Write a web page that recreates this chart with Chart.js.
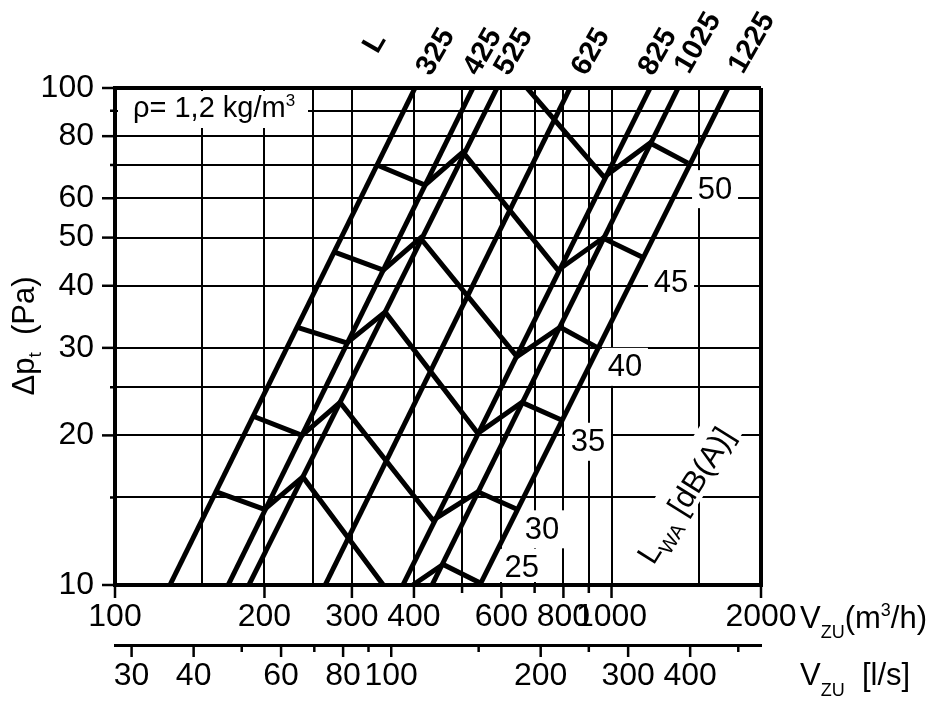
<!DOCTYPE html>
<html>
<head>
<meta charset="utf-8">
<script src="https://cdn.jsdelivr.net/npm/chart.js@4.4.1/dist/chart.umd.min.js"></script>
<style>
  html, body { margin: 0; padding: 0; background: #fff; }
  canvas { display: block; }
</style>
</head>
<body>
<canvas id="chart" width="942" height="709"></canvas>
<script>
// diffuser lengths L and their straight characteristics (m3/h at 10 Pa and at 100 Pa)
const lengthsL = [325, 425, 525, 625, 825, 1025, 1225];
const flowAt10Pa = [129, 169, 186, 265, 380, 435, 543];
const flowAt100Pa = [402, 526, 588, 825, 1196, 1362, 1717];
const lineEndsPa = [10, 100];

// sound power curves L_WA [dB(A)] (null = gap below the axis)
const levels = [25, 30, 35, 40, 45, 50];
const flow25 = [160, 200, 239, 347, null, 398, 458, 543];
const dp25 = [15.4, 14.2, 16.5, 10, null, 10, 11.0, 10.1];
const flow30 = [191, 238, 284, 437, 538, 645];
const dp30 = [21.8, 20.0, 23.3, 13.5, 15.4, 14.2];
const flow35 = [233, 293, 350, 538, 660, 791];
const dp35 = [33.0, 30.7, 35.4, 20.2, 23.3, 21.5];
const flow40 = [276, 347, 412, 645, 788, 939];
const dp40 = [46.8, 43.0, 49.9, 28.8, 33.0, 30.0];
const flow45 = [337, 421, 502, 780, 961, 1152];
const dp45 = [70.0, 63.8, 74.3, 43.0, 49.9, 45.7];
const flow50 = [676, 966, 1196, 1426];
const dp50 = [100, 66.2, 77.5, 70.6];
const flowByLevel = [flow25, flow30, flow35, flow40, flow45, flow50];
const dpByLevel = [dp25, dp30, dp35, dp40, dp45, dp50];

// axis ticks
const xGrid = [100, 150, 200, 250, 300, 400, 500, 600, 700, 800, 900, 1000, 1500, 2000];
const xLabels = [100, 200, 300, 400, 600, 800, 1000, 2000];
const xMajor = [100, 200, 300, 400, 600, 800, 1000, 2000];
const xMinor = [500, 700, 900];
const yGrid = [10, 15, 20, 25, 30, 40, 50, 60, 70, 80, 90, 100];
const yLabels = [10, 20, 30, 40, 50, 60, 80, 100];
const yMinor = [15, 25, 70, 90];
const lsGrid = [30, 40, 50, 60, 70, 80, 90, 100, 150, 200, 250, 300, 400, 500];
const lsLabels = [30, 40, 60, 80, 100, 200, 300, 400];
const lsMinor = [50, 70, 90, 150, 250, 500];

const FONT = "'Liberation Sans', Arial, sans-serif";
const f = (size, bold) => (bold ? 'bold ' : '') + size + 'px ' + FONT;

function drawRuns(ctx, runs, x, y, angle, align) {
  ctx.save();
  ctx.translate(x, y);
  ctx.rotate(angle || 0);
  let total = 0;
  runs.forEach(r => { ctx.font = r.font; r.w = ctx.measureText(r.text).width; total += r.w; });
  let cx = align === 'center' ? -total / 2 : (align === 'right' ? -total : 0);
  ctx.textAlign = 'left';
  ctx.textBaseline = 'alphabetic';
  ctx.fillStyle = '#000';
  runs.forEach(r => { ctx.font = r.font; ctx.fillText(r.text, cx, r.dy || 0); cx += r.w; });
  ctx.restore();
  return total;
}

const annotations = {
  id: 'annotations',
  beforeDatasetsDraw(chart) {
    const { ctx, chartArea: area, scales: { x, y } } = chart;
    ctx.save();

    // density note
    ctx.fillStyle = '#fff';
    ctx.fillRect(area.left + 3, area.top + 3, 190, 37);
    drawRuns(ctx, [{ text: 'ρ= 1,2 kg/m', font: f(29) }, { text: '3', font: f(17), dy: -11 }],
      area.left + 18, area.top + 29, 0, 'left');

    // dB(A) values at the curve ends
    const levelShift = [[42, -15], [25, 20], [27, 22], [27, 19], [29, 25], [27, 26]];
    levels.forEach((lv, i) => {
      const fl = flowByLevel[i], dp = dpByLevel[i], n = fl.length - 1;
      const cx = x.getPixelForValue(fl[n]) + levelShift[i][0];
      const cy = y.getPixelForValue(dp[n]) + levelShift[i][1];
      const bottom = Math.min(cy + 19, area.bottom - 3);
      ctx.fillStyle = '#fff';
      ctx.fillRect(cx - 23, cy - 19, 46, bottom - (cy - 19));
      ctx.fillStyle = '#000';
      ctx.font = f(31);
      ctx.textAlign = 'center';
      ctx.textBaseline = 'middle';
      ctx.fillText(String(lv), cx, cy + 1);
    });

    // L_WA [dB(A)] legend text
    const rot = -58 * Math.PI / 180;
    ctx.save();
    ctx.translate(area.right - 76, area.bottom - 90);
    ctx.rotate(rot);
    ctx.fillStyle = '#fff';
    ctx.fillRect(-84, -24, 168, 40);
    ctx.restore();
    drawRuns(ctx, [
      { text: 'L', font: f(31) },
      { text: 'WA', font: f(20), dy: 8 },
      { text: ' [dB(A)]', font: f(31) }
    ], area.right - 76 - 11 * Math.sin(rot), area.bottom - 90 + 11 * Math.cos(rot), rot, 'center');

    // length labels above the plot
    const sizeShift = [21, 10, 17, 21, 8, 20, 24];
    ctx.fillStyle = '#000';
    ctx.font = f(29, true);
    ctx.textAlign = 'center';
    ctx.textBaseline = 'middle';
    lengthsL.forEach((L, i) => {
      const topX = x.getPixelForValue(flowAt100Pa[i]);
      const cy = area.top - (String(L).length > 3 ? 45 : 36);
      ctx.save();
      ctx.translate(topX + sizeShift[i], cy);
      ctx.rotate(-Math.PI / 3);
      ctx.fillText(String(L), 0, 0);
      ctx.restore();
    });
    ctx.save();
    ctx.translate(x.getPixelForValue(flowAt100Pa[0]) - 40, area.top - 45);
    ctx.rotate(-Math.PI / 3);
    ctx.fillText('L', 0, 0);
    ctx.restore();

    // axis titles
    drawRuns(ctx, [
      { text: 'Δp', font: f(31) },
      { text: 't', font: f(19), dy: 7 },
      { text: '  (Pa)', font: f(31) }
    ], 34, 336, -Math.PI / 2, 'center');
    drawRuns(ctx, [
      { text: 'V', font: f(31) },
      { text: 'ZU', font: f(18), dy: 10 },
      { text: '(m', font: f(31) },
      { text: '3', font: f(18), dy: -12 },
      { text: '/h)', font: f(31) }
    ], area.right + 39, 628, 0, 'left');
    drawRuns(ctx, [
      { text: 'V', font: f(31) },
      { text: 'ZU', font: f(18), dy: 11 },
      { text: '  [l/s]', font: f(31) }
    ], area.right + 39, 685, 0, 'left');

    ctx.restore();
  },
  afterDraw(chart) {
    const { ctx, scales: { x, x2, y } } = chart;
    ctx.save();
    ctx.strokeStyle = '#000';
    ctx.lineWidth = 2.5;
    const seg = (x1, y1, x2_, y2) => { ctx.beginPath(); ctx.moveTo(x1, y1); ctx.lineTo(x2_, y2); ctx.stroke(); };
    xMajor.forEach(v => { const p = x.getPixelForValue(v); seg(p, x.top, p, x.top + 13); });
    xMinor.forEach(v => { const p = x.getPixelForValue(v); seg(p, x.top, p, x.top + 8); });
    yLabels.forEach(v => { const p = y.getPixelForValue(v); seg(y.right - 13, p, y.right, p); });
    yMinor.forEach(v => { const p = y.getPixelForValue(v); seg(y.right - 5, p, y.right, p); });
    lsGrid.forEach(v => {
      const p = x2.getPixelForValue(v);
      seg(p, x2.top, p, x2.top + (lsMinor.includes(v) ? 7 : 12));
    });
    ctx.restore();
  }
};

const datasets = [];
lengthsL.forEach((L, i) => {
  datasets.push({
    label: 'L = ' + L,
    data: [{ x: flowAt10Pa[i], y: lineEndsPa[0] }, { x: flowAt100Pa[i], y: lineEndsPa[1] }],
    showLine: true,
    borderColor: '#000',
    borderWidth: 5,
    pointRadius: 0
  });
});
levels.forEach((lv, i) => {
  datasets.push({
    label: lv + ' dB(A)',
    data: flowByLevel[i].map((v, j) => ({ x: v, y: dpByLevel[i][j] })),
    showLine: true,
    spanGaps: false,
    borderColor: '#000',
    borderWidth: 5,
    borderJoinStyle: 'miter',
    pointRadius: 0
  });
});

const edgeWidth = (lo, hi) => c => (c.tick && (c.tick.value === lo || c.tick.value === hi)) ? 4 : 2;

new Chart(document.getElementById('chart').getContext('2d'), {
  type: 'scatter',
  data: { datasets: datasets },
  options: {
    responsive: false,
    animation: false,
    layout: { padding: { top: 88, right: 181, left: 0, bottom: 0 } },
    plugins: { legend: { display: false }, tooltip: { enabled: false } },
    scales: {
      x: {
        type: 'logarithmic',
        position: 'bottom',
        min: 100,
        max: 2000,
        afterBuildTicks: s => { s.ticks = xGrid.map(v => ({ value: v })); },
        afterFit: s => { s.height = 60; },
        grid: { color: '#000', lineWidth: edgeWidth(100, 2000), drawTicks: false },
        border: { color: '#000', width: 4 },
        ticks: {
          autoSkip: false, maxRotation: 0, minRotation: 0, padding: 13, color: '#000',
          font: { family: FONT, size: 32 },
          callback: v => xLabels.includes(v) ? String(v) : ''
        }
      },
      x2: {
        type: 'logarithmic',
        position: 'bottom',
        weight: 1,
        min: 100 / 3.6,
        max: 2000 / 3.6,
        afterBuildTicks: s => { s.ticks = lsGrid.map(v => ({ value: v })); },
        afterFit: s => { s.height = 64; },
        grid: { drawOnChartArea: false, drawTicks: false },
        border: { color: '#000', width: 3 },
        ticks: {
          autoSkip: false, maxRotation: 0, minRotation: 0, padding: 12, color: '#000',
          font: { family: FONT, size: 32 },
          callback: v => lsLabels.includes(v) ? String(v) : ''
        }
      },
      y: {
        type: 'logarithmic',
        min: 10,
        max: 100,
        afterBuildTicks: s => { s.ticks = yGrid.map(v => ({ value: v })); },
        afterFit: s => { s.width = 115; },
        grid: { color: '#000', lineWidth: edgeWidth(10, 100), drawTicks: false },
        border: { color: '#000', width: 4 },
        ticks: {
          autoSkip: false, padding: 21, color: '#000',
          font: { family: FONT, size: 32 },
          callback: v => yLabels.includes(v) ? String(v) : ''
        }
      }
    }
  },
  plugins: [annotations]
});
</script>
</body>
</html>
